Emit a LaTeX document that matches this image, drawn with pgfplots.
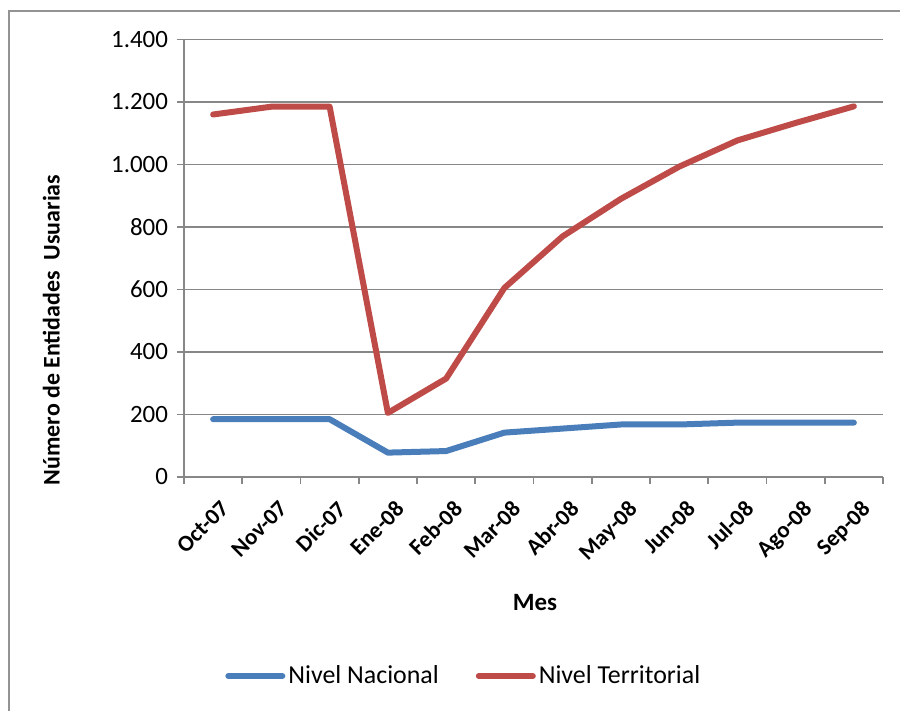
\documentclass[border=0pt]{standalone}
\usepackage{pgfplots}
\pgfplotsset{compat=1.18}
\usepackage{fontspec}
\setmainfont{Carlito}
\definecolor{nac}{HTML}{4A7EBB}
\definecolor{ter}{HTML}{BE4B48}
\definecolor{gridgray}{HTML}{878787}

\begin{document}
\begin{tikzpicture}
\useasboundingbox (0,0) rectangle (450bp,355.5bp);
\draw[gridgray!90, line width=0.6bp] (4.5bp,0) -- (4.5bp,350bp) -- (450bp,350bp);
\begin{axis}[
    at={(92bp,117bp)}, anchor=south west,
    scale only axis,
    width=349.5bp, height=218.75bp,
    xmin=-0.5, xmax=11.5,
    ymin=0, ymax=1400,
    ytick={0,200,...,1400},
    xtick={0,...,11},
    xticklabels={Oct-07,Nov-07,Dic-07,Ene-08,Feb-08,Mar-08,Abr-08,May-08,Jun-08,Jul-08,Ago-08,Sep-08},
    minor xtick={-0.5,0.5,...,11.5},
    major x tick style={draw=none},
    axis x line*=bottom, axis y line*=left,
    axis line style={gridgray, line width=0.9bp, -},
    tick style={gridgray, line width=0.9bp},
    tick align=outside,
    major tick length=3.5bp, minor tick length=3.5bp,
    ymajorgrids,
    major grid style={gridgray, line width=0.8bp},
    /pgf/number format/assume math mode=true,
    /pgf/number format/1000 sep={.},
    yticklabel style={font=\fontsize{12.5}{14}\selectfont, xshift=-1bp},
    xticklabel style={font=\fontsize{11.5}{13}\selectfont\bfseries, rotate=45, anchor=north east, inner sep=0.5bp, xshift=-2.5bp, yshift=-7bp},
    xlabel={Mes},
    ylabel={Número de Entidades\ \ Usuarias},
    xlabel style={font=\fontsize{12.5}{14}\selectfont\bfseries, at={(axis description cs:0.502,-0.288)}, anchor=center},
    ylabel style={font=\fontsize{12}{14}\selectfont\bfseries, at={(axis description cs:-0.190,0.336)}, anchor=center, rotate=0},
    legend columns=2,
    legend style={at={(axis description cs:0.401,-0.455)}, anchor=center, draw=none, fill=none,
        font=\fontsize{13}{14}\selectfont, inner sep=0pt,
        /tikz/every even column/.append style={column sep=17bp},
        nodes={inner sep=1.5bp}},
    legend image code/.code={\draw[#1, line width=3bp, line cap=round] (0bp,0bp) -- (27bp,0bp);},
    every axis plot/.append style={line width=3bp, line join=round, line cap=round},
]
\addplot[nac] coordinates {
(0,185) (1,185) (2,185) (3,78) (4,83) (5,142) (6,155) (7,168) (8,168) (9,174) (10,174) (11,174)
};
\addlegendentry{Nivel Nacional}
\addplot[ter] coordinates {
(0,1160) (1,1185) (2,1185) (3,205) (4,315) (5,605) (6,770) (7,890) (8,993) (9,1077) (10,1133) (11,1186)
};
\addlegendentry{Nivel Territorial}
\end{axis}
\end{tikzpicture}
\end{document}
